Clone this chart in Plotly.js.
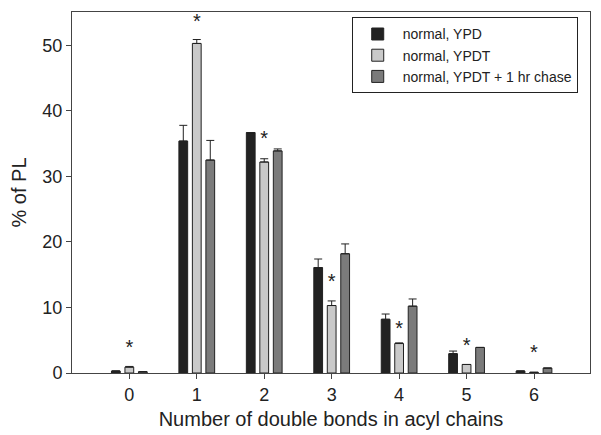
<!DOCTYPE html>
<html><head><meta charset="utf-8">
<script src="https://cdn.plot.ly/plotly-3.0.1.min.js"></script>
<style>body{margin:0;background:#fff}#chart{width:601px;height:435px}</style>
</head><body><div id="chart"></div>
<script>
const categories = [0, 1, 2, 3, 4, 5, 6];
const seriesNames = ["normal, YPD", "normal, YPDT", "normal, YPDT + 1 hr chase"];
const ypd = [0.3, 35.4, 36.7, 16.1, 8.2, 2.95, 0.3];
const ypdErr = [0.0, 2.4, 0.0, 1.3, 0.8, 0.4, 0.0];
const ypdt = [0.9, 50.3, 32.2, 10.3, 4.5, 1.3, 0.1];
const ypdtErr = [0.1, 0.6, 0.5, 0.7, 0.1, 0.0, 0.0];
const chase = [0.2, 32.5, 33.9, 18.2, 10.2, 3.9, 0.75];
const chaseErr = [0.0, 3.0, 0.3, 1.5, 1.1, 0.0, 0.0];
const starY = [3.6, 53.4, 35.6, 13.7, 6.6, 4.0, 2.9];
const xTickLabels = ["0", "1", "2", "3", "4", "5", "6"];

const colors = ["#222222", "#c9c9c9", "#7b7b7b"];
function barTrace(name, y, err, color) {
  return {
    type: "bar", name: name, x: categories, y: y,
    marker: {color: color, line: {color: "#222", width: 1}},
    error_y: {type: "data", symmetric: false, array: err, arrayminus: err.map(() => 0),
              color: "#222", thickness: 1, width: 4, visible: true}
  };
}
const traces = [
  barTrace(seriesNames[0], ypd, ypdErr, colors[0]),
  barTrace(seriesNames[1], ypdt, ypdtErr, colors[1]),
  barTrace(seriesNames[2], chase, chaseErr, colors[2]),
  {type: "scatter", mode: "text", x: categories, y: starY, text: categories.map(() => "*"),
   textfont: {size: 20, color: "#222", family: "Liberation Sans, Arial, sans-serif"},
   showlegend: false, hoverinfo: "skip"}
];
const layout = {
  width: 601, height: 435,
  margin: {l: 72, r: 11, t: 12, b: 62},
  paper_bgcolor: "#fff", plot_bgcolor: "#fff",
  font: {family: "Liberation Sans, Arial, sans-serif", color: "#222"},
  barmode: "group", bargap: 0.4, bargroupgap: 0.35,
  showlegend: true,
  legend: {x: 0.54, y: 0.985, xanchor: "left", yanchor: "top",
           bordercolor: "#222", borderwidth: 1, bgcolor: "#fff", itemwidth: 40,
           font: {size: 14, color: "#222"}, traceorder: "normal", tracegroupgap: 0},
  xaxis: {range: [-0.85, 6.83], tickvals: categories, ticktext: xTickLabels,
          showgrid: false, zeroline: false, showline: true, linecolor: "#444", linewidth: 1,
          mirror: true, ticks: "outside", ticklen: 5, tickcolor: "#444",
          tickfont: {size: 18}, title: {text: "Number of double bonds in acyl chains", font: {size: 20}, standoff: 8}},
  yaxis: {range: [0, 55.1], tickvals: [0, 10, 20, 30, 40, 50],
          showgrid: false, zeroline: false, showline: true, linecolor: "#444", linewidth: 1,
          mirror: true, ticks: "outside", ticklen: 5, tickcolor: "#444",
          tickfont: {size: 18}, title: {text: "% of PL", font: {size: 20}, standoff: 10}}
};
Plotly.newPlot("chart", traces, layout, {displayModeBar: false, staticPlot: true});
</script></body></html>
